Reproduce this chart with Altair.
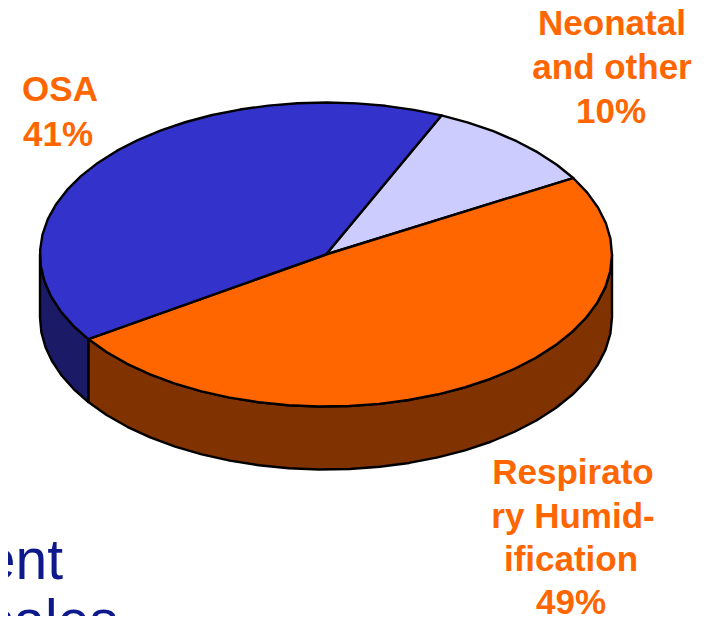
import math
import altair as alt
import pandas as pd

# Values
segments = ["Neonatal and other", "Respiratory Humidification", "OSA"]
shares = [10, 49, 41]
top_colors = ["#CCCCFF", "#FF6600", "#3333CC"]
wall_colors = {"Respiratory Humidification": "#803300", "OSA": "#1A1A66"}

label_lines = ["Neonatal", "and other", "10%", "OSA", "41%",
               "Respirato", "ry Humid-", "ification", "49%"]
caption_lines = ["ent", "sales"]

# Pie geometry (page pixels)
CX, CY, RX, RY, DEPTH = 326.0, 254.5, 286.0, 152.0, 63.0
START = 23.8
STEP = 6.0


def rim(a, dy=0.0):
    t = math.radians(a)
    return CX + RX * math.sin(t), CY - RY * math.cos(t) + dy


def sweep(a0, a1):
    n = max(1, int(round((a1 - a0) / STEP)))
    return [a0 + (a1 - a0) * k / n for k in range(n + 1)]


def frame(points):
    return pd.DataFrame({"x": [p[0] for p in points], "y": [p[1] for p in points],
                         "i": range(len(points))})


X = alt.X("x:Q", scale=alt.Scale(domain=[8, 703], range=[0, 695], nice=False, zero=False), axis=None)
Y = alt.Y("y:Q", scale=alt.Scale(domain=[616, 8], nice=False, zero=False), axis=None)


def polygon(points, fill):
    return alt.Chart(frame(points)).mark_line(
        fill=fill, stroke="#000000", strokeWidth=2.4, interpolate="linear-closed",
        strokeJoin="round", clip=False
    ).encode(x=X, y=Y, order="i:Q")


spans = {}
a = START
for name, share in zip(segments, shares):
    spans[name] = (a, a + share * 3.6)
    a += share * 3.6

layers = []
# Side walls, visible lower half of the rim only
for name, (a0, a1) in spans.items():
    if name not in wall_colors:
        continue
    lo, hi = max(a0, 90.0), min(a1, 270.0)
    top = [rim(t) for t in sweep(lo, hi)]
    bottom = [rim(t, DEPTH) for t in sweep(lo, hi)]
    layers.append(polygon(top + bottom[::-1], wall_colors[name]))

# Top face slices
for (name, (a0, a1)), color in zip(spans.items(), top_colors):
    layers.append(polygon([(CX, CY)] + [rim(t) for t in sweep(a0, a1)], color))

# Labels
label_x = [612, 612, 611, 60, 58, 573, 573, 571, 571]
label_y = [35, 79, 123, 101, 146, 484, 528, 571, 614]
labels = pd.DataFrame({"t": label_lines, "x": label_x, "y": label_y})
layers.append(alt.Chart(labels).mark_text(
    font="Liberation Sans", fontSize=35, fontWeight="bold", color="#FF6600",
    align="center", baseline="alphabetic", clip=False
).encode(x=X, y=Y, text="t:N"))

caption = pd.DataFrame({"t": caption_lines, "x": [63, 118], "y": [579, 640]})
layers.append(alt.Chart(caption).mark_text(
    font="Liberation Sans", fontSize=57, color="#0E1A8C",
    align="right", baseline="alphabetic", clip=False
).encode(x=X, y=Y, text="t:N"))

chart = alt.layer(*layers).properties(
    width=695, height=608, padding=0, background="#FFFFFF",
    autosize=alt.AutoSizeParams(type="none")
).configure_view(stroke=None)

chart.save("out.html", embed_options={"renderer": "svg", "actions": False})
